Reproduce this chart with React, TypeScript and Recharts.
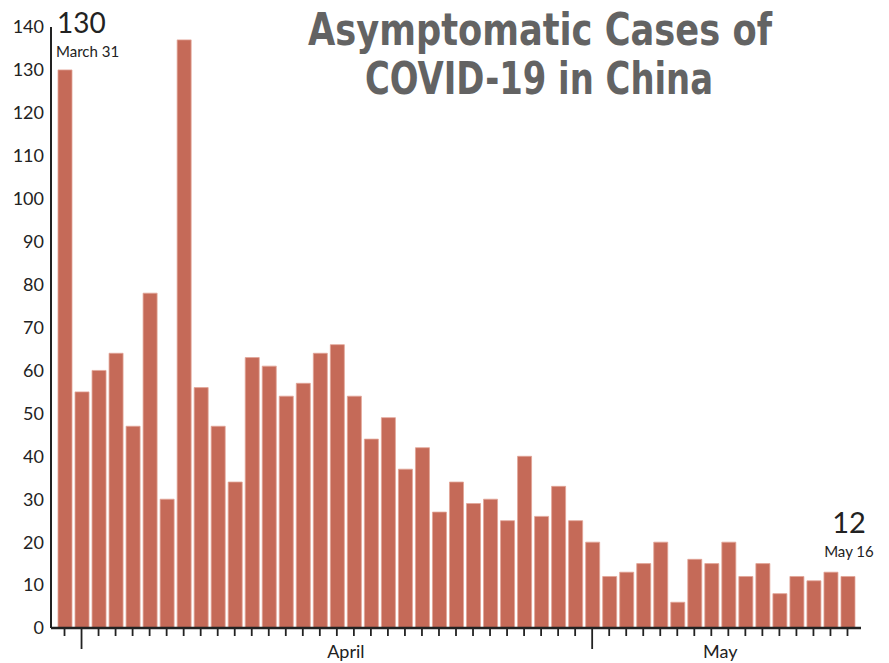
import { BarChart, Bar, XAxis, YAxis, LabelList } from 'recharts';

const days = [
  '3/31',
  '4/1', '4/2', '4/3', '4/4', '4/5', '4/6', '4/7', '4/8', '4/9', '4/10',
  '4/11', '4/12', '4/13', '4/14', '4/15', '4/16', '4/17', '4/18', '4/19', '4/20',
  '4/21', '4/22', '4/23', '4/24', '4/25', '4/26', '4/27', '4/28', '4/29', '4/30',
  '5/1', '5/2', '5/3', '5/4', '5/5', '5/6', '5/7', '5/8', '5/9', '5/10',
  '5/11', '5/12', '5/13', '5/14', '5/15', '5/16',
];

const cases = [
  130,
  55, 60, 64, 47, 78, 30, 137, 56, 47, 34,
  63, 61, 54, 57, 64, 66, 54, 44, 49, 37,
  42, 27, 34, 29, 30, 25, 40, 26, 33, 25,
  20, 12, 13, 15, 20, 6, 16, 15, 20, 12,
  15, 8, 12, 11, 13, 12,
];

const yTicks = [0, 10, 20, 30, 40, 50, 60, 70, 80, 90, 100, 110, 120, 130, 140];

// long tick at the first day of each month
const monthStarts = ['4/1', '5/1'];
// month name sits between these days and the next one
const monthLabels: Record<string, string> = { '4/16': 'April', '5/8': 'May' };

const calloutNames: Record<number, string> = { 0: 'March 31', 46: 'May 16' };

const titleLines = ['Asymptomatic Cases of', 'COVID-19 in China'];

const data = days.map((day, i) => ({ day, cases: cases[i] }));

const FONT = 'Lato, "Open Sans", sans-serif';
const BAR = '#c56a58';
const INK = '#222';

function DayTick(props: any) {
  const { x, y, payload } = props;
  const long = monthStarts.includes(payload.value);
  const label = monthLabels[payload.value];
  return (
    <g>
      <line x1={x} x2={x} y1={y + 1} y2={y + (long ? 21 : 8)} stroke={INK} strokeWidth={1.8} />
      {label && (
        <text x={x + 9} y={y + 30} textAnchor="middle" fontFamily={FONT} fontSize={18} fill={INK}>
          {label}
        </text>
      )}
    </g>
  );
}

function Callout(props: any) {
  const { x, y, width, value, index } = props;
  const name = calloutNames[index];
  if (!name) return null;
  if (index === 0) {
    return (
      <g fontFamily={FONT} fill={INK}>
        <text x={x - 1} y={y - 37} fontSize={28}>{value}</text>
        <text x={x - 2} y={y - 13} fontSize={15}>{name}</text>
      </g>
    );
  }
  const cx = x + width / 2 + 1;
  return (
    <g fontFamily={FONT} fill={INK} textAnchor="middle">
      <text x={cx} y={y - 43} fontSize={29}>{value}</text>
      <text x={cx} y={y - 19} fontSize={15}>{name}</text>
    </g>
  );
}

export default function App() {
  return (
    <div style={{ position: 'absolute', left: 0, top: 0, width: 889, height: 663, background: '#fff' }}>
      <BarChart
        width={889}
        height={663}
        data={data}
        margin={{ top: 27, right: 28, bottom: 0, left: 0 }}
        barSize={14}
      >
        <XAxis
          dataKey="day"
          interval={0}
          height={35}
          padding={{ left: 5, right: 5 }}
          axisLine={{ stroke: INK, strokeWidth: 2.5 }}
          tickLine={false}
          tickSize={0}
          tickMargin={0}
          tick={<DayTick />}
        />
        <YAxis
          width={51}
          domain={[0, 140]}
          ticks={yTicks}
          interval={0}
          axisLine={{ stroke: INK, strokeWidth: 2 }}
          tickLine={false}
          tickSize={5}
          tickMargin={2}
          tick={{ fill: INK, fontSize: 18, fontFamily: FONT }}
        />
        <Bar dataKey="cases" fill={BAR} stroke="#e2a497" strokeWidth={0.8} isAnimationActive={false}>
          <LabelList dataKey="cases" content={<Callout />} />
        </Bar>
      </BarChart>
      <svg
        width={889}
        height={120}
        style={{ position: 'absolute', left: 0, top: 0, pointerEvents: 'none' }}
      >
        <g fontFamily='"DejaVu Sans Condensed", "Liberation Sans Narrow", sans-serif' fontWeight={700} fontSize={45} fill="#636363" textAnchor="middle">
          <text x={540} y={44.5} textLength={464} lengthAdjust="spacingAndGlyphs">{titleLines[0]}</text>
          <text x={539} y={93.5} textLength={348} lengthAdjust="spacingAndGlyphs">{titleLines[1]}</text>
        </g>
      </svg>
    </div>
  );
}
